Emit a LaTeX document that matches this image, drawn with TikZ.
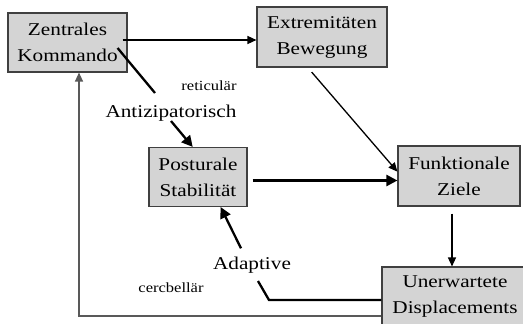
\documentclass[tikz,border=0pt]{standalone}
\usepackage{fontspec}
\setmainfont{Liberation Serif}[FakeStretch=1.18]
\usetikzlibrary{arrows.meta}
\usetikzlibrary{shapes,arrows}

\begin{document}
\begin{tikzpicture}[x=1pt,y=-1pt,draw=black!100]
	\def \rowone{40}
	\def \rowtwo{177}
	\def \rowthree{297}
	\tikzstyle{b-node}=[rectangle,draw=black!75,fill=black!17,line width=1.1pt,inner sep=0pt,align=center,font=\fontsize{18}{26}\selectfont]
	\tikzstyle{annot}=[inner sep=0pt,font=\fontsize{18}{22}\selectfont]
	\tikzstyle{small-annot}=[inner sep=0pt,font=\fontsize{14}{16}\selectfont]
	\tikzstyle{thin-arrow}=[line width=1.3pt,-{Triangle[length=9pt,width=8pt]}]
	\tikzstyle{thick-arrow}=[line width=2.3pt,-{Triangle[length=11pt,width=11pt]}]
	\tikzstyle{thick-line}=[line width=2.3pt]
	\tikzstyle{back-arrow}=[line width=1.2pt,draw=black!65,-{Triangle[length=9pt,width=8pt]}]
	\useasboundingbox (0,0) rectangle (523,324);
	\clip (0,0) rectangle (523,324);

	% boxes
	\node[b-node,minimum width=119pt,minimum height=59pt] (zk) at (67.5,42.5)  {Zentrales\\Kommando};
	\node[b-node,minimum width=130pt,minimum height=60pt] (eb) at (322,37)     {Extremitäten\\Bewegung};
	\node[b-node,minimum width=98pt,minimum height=59pt]  (ps) at (198,\rowtwo) {Posturale\\Stabilität};
	\node[b-node,minimum width=122pt,minimum height=60pt] (fz) at (459,176)    {Funktionale\\Ziele};
	\node[b-node,minimum width=146pt,minimum height=60pt] (ud) at (455,\rowthree) {Unerwartete\\Displacements};

	% labels
	\node[small-annot,anchor=base] (rt) at (209,90.5) {reticulär};
	\node[annot,anchor=base]       (an) at (171,117)  {Antizipatorisch};
	\node[annot,anchor=base,inner ysep=8pt] (ad) at (252,269) {Adaptive};
	\node[small-annot,anchor=base] (cb) at (171,292)  {cercbellär};

	\coordinate (ant-in) at (155,93);
	\coordinate (ad-knee) at (269,300);

	% connectors
	\draw[thin-arrow] ([xshift=-5pt,yshift=2.5pt]zk.east) -- ([yshift=2.5pt]zk.east -| eb.west);
	\draw[thick-line] ([xshift=-10pt,yshift=-5.5pt]zk.east) -- (ant-in);
	\draw[thick-arrow] (an.south) -- (ps.100);
	\draw[thin-arrow,shorten <=6pt] (eb.245) -- (fz.176);
	\draw[thick-arrow,shorten <=5pt] ([yshift=-3.5pt]ps.east) -- ([yshift=-3.5pt]ps.east -| fz.west);
	\draw[thin-arrow,shorten <=7pt] ([xshift=-7pt]fz.south) -- ([xshift=-7pt]fz.south |- ud.north);
	\draw[thick-line] (ud.west |- ad-knee) -- (ad-knee) -- ([xshift=6pt]ad.south);
	\draw[thick-arrow] ([xshift=-11pt]ad.north) -- (ps.-53);
	\draw[back-arrow] ([yshift=-19pt]ud.west) -| ([xshift=11.5pt]zk.south);
\end{tikzpicture}
\end{document}
